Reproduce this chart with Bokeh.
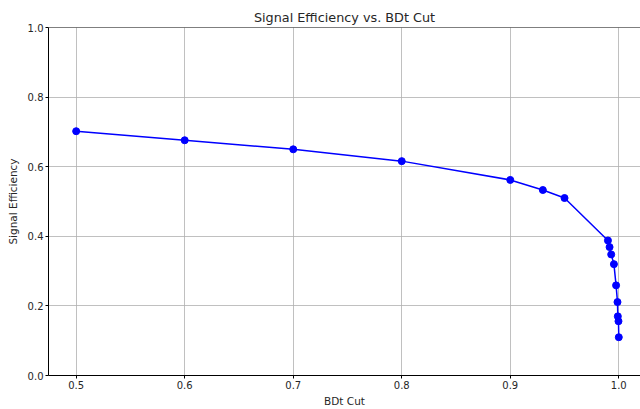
from bokeh.plotting import figure
from bokeh.models import FixedTicker, PrintfTickFormatter, Range1d, Span
from bokeh.embed import file_html
from bokeh.resources import INLINE

bdt_cut = [0.5, 0.6, 0.7, 0.8, 0.9, 0.93, 0.95, 0.99, 0.9915, 0.993, 0.9955,
           0.9975, 0.9988, 0.9991, 0.9997, 1.0]
signal_eff = [0.702, 0.676, 0.650, 0.616, 0.562, 0.533, 0.510, 0.388, 0.369,
              0.348, 0.320, 0.259, 0.211, 0.170, 0.156, 0.110]
x_ticks = [0.5, 0.6, 0.7, 0.8, 0.9, 1.0]
y_ticks = [0.0, 0.2, 0.4, 0.6, 0.8, 1.0]

FONT = "DejaVu Sans"

p = figure(width=640, height=409, output_backend="svg", toolbar_location=None,
           x_range=Range1d(0.4745, 1.02), y_range=Range1d(0, 1),
           title="Signal Efficiency vs. BDt Cut",
           min_border_left=48, min_border_right=0, min_border_top=27,
           min_border_bottom=33)

p.title.align = "center"
p.title.text_font = FONT
p.title.text_font_size = "12.8px"
p.title.text_font_style = "normal"
p.title.text_color = "#262626"
p.title.standoff = 6

p.line(bdt_cut, signal_eff, line_color="#0000ff", line_width=1.5)
p.scatter(bdt_cut, signal_eff, size=7, fill_color="#0000ff", line_color="#0000ff")

for ax in (p.xaxis[0], p.yaxis[0]):
    ax.axis_line_color = "black"
    ax.major_tick_line_color = "black"
    ax.major_tick_out = 3
    ax.major_tick_in = 0
    ax.minor_tick_line_color = None
    ax.major_label_text_font = FONT
    ax.major_label_text_font_size = "10px"
    ax.major_label_text_color = "#262626"
    ax.axis_label_text_font = FONT
    ax.axis_label_text_font_size = "10.5px"
    ax.axis_label_text_font_style = "normal"
    ax.axis_label_text_color = "#262626"
    ax.major_label_standoff = 2
    ax.axis_label_standoff = 3

p.yaxis.axis_label_standoff = 6

p.xaxis.ticker = FixedTicker(ticks=x_ticks)
p.yaxis.ticker = FixedTicker(ticks=y_ticks)
p.xaxis.formatter = PrintfTickFormatter(format="%.1f")
p.yaxis.formatter = PrintfTickFormatter(format="%.1f")
p.xaxis.axis_label = "BDt Cut"
p.yaxis.axis_label = "Signal Efficiency"

p.xgrid.ticker = FixedTicker(ticks=x_ticks)
p.ygrid.ticker = FixedTicker(ticks=y_ticks)
p.grid.grid_line_color = "#b0b0b0"
p.grid.grid_line_width = 0.8

p.outline_line_color = None
p.add_layout(Span(location=1.0, dimension="width", line_color="black", line_width=1))
p.background_fill_color = "white"
p.border_fill_color = "white"

open("out.html", "w").write(file_html(p, INLINE))
